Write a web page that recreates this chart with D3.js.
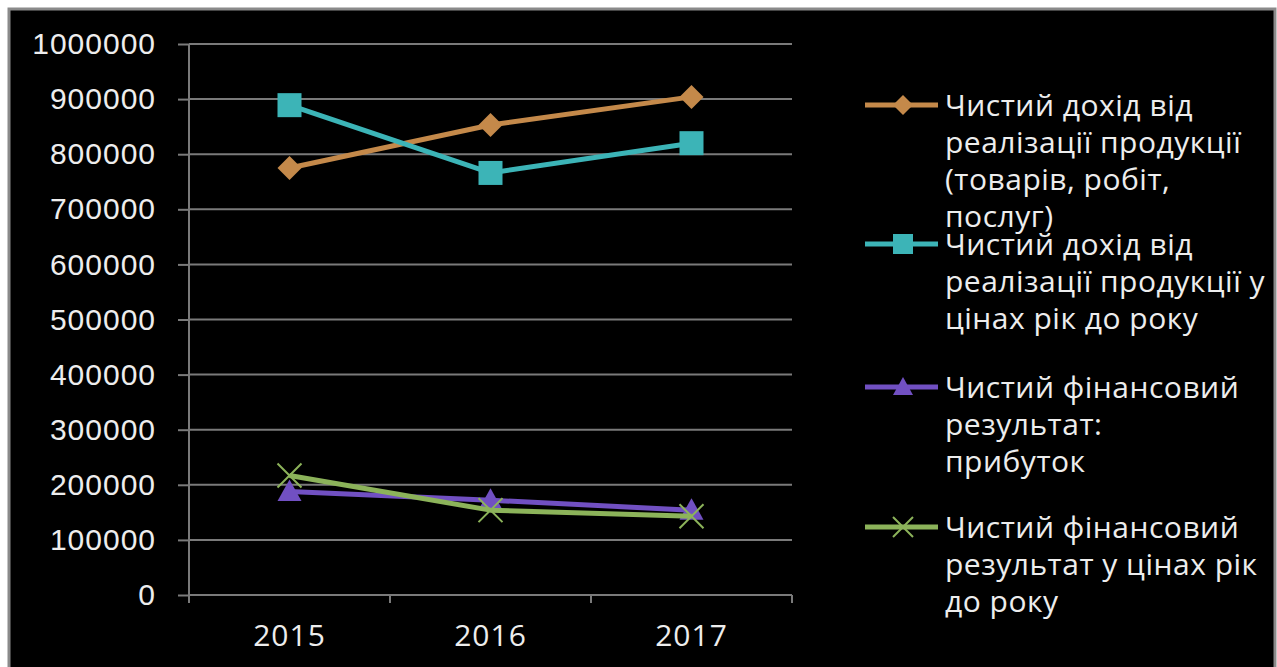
<!DOCTYPE html>
<html>
<head>
<meta charset="utf-8">
<script src="https://cdn.jsdelivr.net/npm/d3@7"></script>
<style>
  html, body { margin: 0; padding: 0; background: #fff; }
  svg { display: block; font-family: "Open Sans", sans-serif; }
</style>
</head>
<body>
<svg id="chart" width="1277" height="667"></svg>
<script>
const years = ["2015", "2016", "2017"];
const yTicks = [0, 100000, 200000, 300000, 400000, 500000, 600000, 700000, 800000, 900000, 1000000];

const incomeValues = [775000, 853000, 904000];
const incomeRealValues = [889000, 766000, 820000];
const profitValues = [188000, 172000, 154000];
const profitRealValues = [217000, 154000, 143000];

const seriesNames = [
  ["Чистий дохід від", "реалізації продукції", "(товарів, робіт,", "послуг)"],
  ["Чистий дохід від", "реалізації продукції у", "цінах рік до року"],
  ["Чистий фінансовий", "результат:", "прибуток"],
  ["Чистий фінансовий", "результат у цінах рік", "до року"]
];

const series = [
  { values: incomeValues, color: "#c4894a", marker: "diamond" },
  { values: incomeRealValues, color: "#3cb4b7", marker: "square" },
  { values: profitValues, color: "#7150c2", marker: "triangle" },
  { values: profitRealValues, color: "#8cb35a", marker: "x" }
];

const svg = d3.select("#chart");

// cadre noir avec bordure grise
svg.append("rect")
  .attr("x", 9).attr("y", 9)
  .attr("width", 1266).attr("height", 670)
  .attr("fill", "#000")
  .attr("stroke", "#8a8a8a")
  .attr("stroke-width", 3);

const x = d3.scaleBand().domain(years).range([189, 792]);
const y = d3.scaleLinear().domain([0, 1000000]).range([595, 44]);
const cx = d => x(d) + x.bandwidth() / 2;

// grille horizontale + axe Y
const yAxis = svg.append("g")
  .attr("transform", "translate(189,0)")
  .call(d3.axisLeft(y).tickValues(yTicks).tickFormat(d3.format("d")).tickSize(11).tickPadding(22));
yAxis.select(".domain").remove();
yAxis.selectAll("line").attr("stroke", "#7a7a7a").attr("stroke-width", 2);
yAxis.selectAll("text")
  .attr("fill", "#ededed")
  .style("font-size", "30px")
  .style("letter-spacing", "1px");

svg.append("g").selectAll("line")
  .data(yTicks)
  .enter()
  .append("line")
  .attr("x1", 189).attr("x2", 792)
  .attr("y1", d => y(d)).attr("y2", d => y(d))
  .attr("stroke", "#7a7a7a").attr("stroke-width", 2);

svg.append("line")
  .attr("x1", 189).attr("x2", 189)
  .attr("y1", y(1000000)).attr("y2", 603)
  .attr("stroke", "#7a7a7a").attr("stroke-width", 2);

// axe X
const edges = years.map(d => x(d)).concat([x.range()[1]]);
svg.append("g").selectAll("line")
  .data(edges.slice(1))
  .enter()
  .append("line")
  .attr("x1", d => d).attr("x2", d => d)
  .attr("y1", 595).attr("y2", 603)
  .attr("stroke", "#7a7a7a").attr("stroke-width", 2);

svg.append("g").selectAll("text")
  .data(years)
  .enter()
  .append("text")
  .attr("x", d => cx(d))
  .attr("y", 646)
  .attr("text-anchor", "middle")
  .attr("fill", "#ededed")
  .style("font-size", "30px")
  .style("letter-spacing", "1px")
  .text(d => d);

// marqueurs
function drawMarker(g, type, color, px, py, s) {
  if (type === "diamond") {
    g.append("path")
      .attr("d", `M${px},${py - s}L${px + s},${py}L${px},${py + s}L${px - s},${py}Z`)
      .attr("fill", color);
  } else if (type === "square") {
    g.append("rect")
      .attr("x", px - s).attr("y", py - s)
      .attr("width", 2 * s).attr("height", 2 * s)
      .attr("fill", color);
  } else if (type === "triangle") {
    g.append("path")
      .attr("d", `M${px},${py - s}L${px + s},${py + s * 0.8}L${px - s},${py + s * 0.8}Z`)
      .attr("fill", color);
  } else {
    g.append("path")
      .attr("d", `M${px - s},${py - s}L${px + s},${py + s}M${px - s},${py + s}L${px + s},${py - s}`)
      .attr("stroke", color).attr("stroke-width", 2);
  }
}

const line = d3.line().x((d, i) => cx(years[i])).y(d => y(d));

series.forEach(s => {
  const g = svg.append("g");
  g.append("path")
    .datum(s.values)
    .attr("d", line)
    .attr("fill", "none")
    .attr("stroke", s.color)
    .attr("stroke-width", 5)
    .attr("stroke-linejoin", "round");
  s.values.forEach((v, i) => drawMarker(g, s.marker, s.color, cx(years[i]), y(v), 12));
});

// légende
const legendTops = [105, 244, 387, 527];
series.forEach((s, k) => {
  const g = svg.append("g");
  const ly = legendTops[k];
  g.append("line")
    .attr("x1", 865).attr("x2", 938)
    .attr("y1", ly).attr("y2", ly)
    .attr("stroke", s.color).attr("stroke-width", 5);
  drawMarker(g, s.marker, s.color, 903, ly, 10);
  g.selectAll("text")
    .data(seriesNames[k])
    .enter()
    .append("text")
    .attr("x", 945)
    .attr("y", (d, i) => ly + i * 37.3)
    .attr("dy", "0.35em")
    .attr("fill", "#ededed")
    .style("font-size", "30px")
    .style("letter-spacing", "0.5px")
    .text(d => d);
});
</script>
</body>
</html>
